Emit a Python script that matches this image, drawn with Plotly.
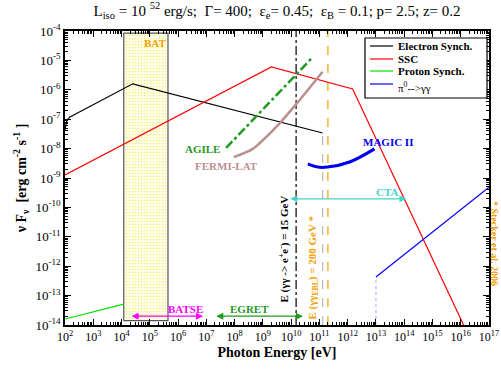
import numpy as np
import plotly.graph_objects as go

# ---------------- data ----------------
elec_E = [1e2, 1.15e2, 1.5e2, 2.5e4, 1.3e11]
elec_F = [4.3e-8, 9.0e-8, 1.2e-7, 1.6e-6, 3.4e-8]

ssc_E = [1e2, 2.0e9, 1.5e12, 1.26e16]
ssc_F = [1.26e-9, 6.0e-6, 1.07e-6, 1.0e-14]

prot_E = [1e2, 1.2e4]
prot_F = [1.6e-14, 5.1e-14]

pion_E = [1e13, 1e17]
pion_F = [4.3e-13, 4.9e-10]

agile_E = [5.0e7, 5.4e10]
agile_F = [1.05e-8, 1.2e-5]

fermi_E = [9.3e7, 4.4e8, 7.8e8, 4.0e9, 2.0e10, 1.3e11]
fermi_F = [5.1e-9, 9.8e-9, 1.55e-8, 7.4e-8, 4.5e-7, 4.1e-6]

magic_E = [3.9e10, 8.7e10, 1.95e11, 1.17e12, 8.9e12]
magic_F = [3.0e-9, 2.35e-9, 2.35e-9, 3.5e-9, 9.8e-9]

bat_E = [1.2e4, 4.4e5]
bat_F = [1.4e-14, 8.5e-5]

batse_E = [2.0e4, 7.6e6]
egret_E = [2.0e7, 2.6e10]
instr_F = 2.0e-14
cta_E = [8.3e9, 1.2e14]
cta_F = 1.95e-10

E_pair = 1.5e10      # gamma gamma -> e+ e-
E_ebl = 2.0e11       # EBL cut
E_end = 1.3e11       # end of electron synch
E_pion = 1e13

x_ticks = list(range(2, 18))
y_ticks = list(range(-14, -3))

FONT = "Liberation Serif"
GREEN_D = "#1f9a1f"
ORANGE = "#f5a000"

fig = go.Figure()

# BAT box
fig.add_trace(go.Scatter(
    x=[bat_E[0], bat_E[1], bat_E[1], bat_E[0], bat_E[0]],
    y=[bat_F[0], bat_F[0], bat_F[1], bat_F[1], bat_F[0]],
    mode="lines", fill="toself", fillcolor="#ffffe6",
    fillpattern=dict(shape=".", fgcolor="#f3ee8a", bgcolor="#ffffec", size=3, solidity=0.25),
    line=dict(color="#555555", width=1.2), hoverinfo="skip", showlegend=False))

# vertical reference lines
fig.add_trace(go.Scatter(x=[E_pair, E_pair], y=[1e-14, 1e-4], mode="lines",
                         line=dict(color="black", width=1.2, dash="dashdot"), showlegend=False))
fig.add_trace(go.Scatter(x=[E_end, E_end], y=[1e-14, elec_F[-1]], mode="lines",
                         line=dict(color="#bbbbbb", width=1.2, dash="dash"), showlegend=False))
fig.add_trace(go.Scatter(x=[E_ebl, E_ebl], y=[1e-14, 1e-4], mode="lines",
                         line=dict(color=ORANGE, width=1.2, dash="dash"), showlegend=False))
fig.add_trace(go.Scatter(x=[E_pion, E_pion], y=[1e-14, pion_F[0]], mode="lines",
                         line=dict(color="#b0b8f0", width=1.2, dash="dot"), showlegend=False))

# model curves
fig.add_trace(go.Scatter(x=elec_E, y=elec_F, mode="lines", name="Electron Synch.",
                         line=dict(color="black", width=1.2)))
fig.add_trace(go.Scatter(x=ssc_E, y=ssc_F, mode="lines", name="SSC",
                         line=dict(color="red", width=1.2)))
fig.add_trace(go.Scatter(x=prot_E, y=prot_F, mode="lines", name="Proton Synch.",
                         line=dict(color="#00e000", width=1.2)))
fig.add_trace(go.Scatter(x=pion_E, y=pion_F, mode="lines", name="π<sup>0</sup>-->γγ",
                         line=dict(color="blue", width=1.2)))

# sensitivities
fig.add_trace(go.Scatter(x=agile_E, y=agile_F, mode="lines", showlegend=False,
                         line=dict(color=GREEN_D, width=2.5, dash="dashdot")))
fig.add_trace(go.Scatter(x=fermi_E, y=fermi_F, mode="lines", showlegend=False,
                         line=dict(color="#bc8f8f", width=2.5, shape="spline")))
fig.add_trace(go.Scatter(x=magic_E, y=magic_F, mode="lines", showlegend=False,
                         line=dict(color="#0000ee", width=3, shape="spline")))

lg = np.log10
ann = []
def arrow(e0, e1, f, color):
    ann.append(dict(x=lg(e1), y=lg(f), ax=lg(e0), ay=lg(f), xref="x", yref="y",
                    axref="x", ayref="y", text="", showarrow=True, arrowhead=2,
                    arrowside="end+start", arrowsize=1, arrowwidth=1.4, arrowcolor=color))
arrow(batse_E[0], batse_E[1], instr_F, "#ff00ff")
arrow(egret_E[0], egret_E[1], instr_F, GREEN_D)
arrow(cta_E[0], cta_E[1], cta_F, "#48d1cc")

def label(x, y, text, color, size=11, angle=0, bold=True):
    t = f"<b>{text}</b>" if bold else text
    ann.append(dict(x=x, y=y, xref="x", yref="y", text=t, showarrow=False,
                    xanchor="center", yanchor="middle",
                    textangle=angle, font=dict(family=FONT, size=size, color=color)))

label(5.18, -4.41, "BAT", ORANGE)
label(6.88, -8.01, "AGILE", GREEN_D)
label(7.72, -8.59, "FERMI-LAT", "#bc8f8f")
label(13.41, -7.78, "MAGIC II", "#0000ee")
label(13.38, -9.48, "CTA", "#48d1cc")
label(6.28, -13.46, "BATSE", "#ff00ff")
label(8.54, -13.46, "EGRET", GREEN_D)
label(9.77, -11.41, "E (γγ -> e<sup>+</sup>e<sup>-</sup>) = 15 GeV", "black", size=11, angle=-90)
label(10.76, -12.06, "E (γγ<sub>EBL</sub>) = 200 GeV *", ORANGE, size=11, angle=-90)

ann.append(dict(x=(495 - 65) / 424, y=1 - (243 - 31) / 294, xref="paper", yref="paper",
                xanchor="center", yanchor="middle",
                showarrow=False, text="<b>* Stecker et al. 2006</b>", textangle=90,
                font=dict(family=FONT, size=10, color=ORANGE)))

# manual legend (compact, as in reference)
def px_x(p): return (p - 65) / 424
def px_y(p): return 1 - (p - 31) / 294
shapes = [dict(type="rect", xref="paper", yref="paper", x0=px_x(365), x1=px_x(487),
               y0=px_y(98), y1=px_y(38), line=dict(color="black", width=1.2),
               fillcolor="white", layer="above")]
leg = [("Electron Synch.", "black", 46, 46, True),
       ("SSC", "red", 59, 59, True),
       ("Proton Synch.", "#00e000", 71, 71, True),
       ("π<sup>0</sup>-->γγ", "blue", 84, 87, False)]
for txt, col, ly, ty, bold in leg:
    shapes.append(dict(type="line", xref="paper", yref="paper", x0=px_x(370), x1=px_x(393),
                       y0=px_y(ly), y1=px_y(ly), line=dict(color=col, width=1.2), layer="above"))
    ann.append(dict(x=px_x(396), y=px_y(ty), xref="paper", yref="paper",
                    xanchor="left", yanchor="middle",
                    showarrow=False, text=(f"<b>{txt}</b>" if bold else txt),
                    font=dict(family=FONT, size=11, color="black")))

minor_x = [m * 10.0 ** k for k in range(2, 17) for m in range(2, 10)]
minor_y = [m * 10.0 ** k for k in range(-14, -4) for m in range(2, 10)]

axis_common = dict(type="log", showgrid=False, zeroline=False, showline=True,
                   automargin=False,
                   linecolor="black", linewidth=1.5, mirror="allticks", ticks="inside",
                   ticklen=6, tickwidth=1.2, tickcolor="black")

fig.update_layout(
    template="none",
    width=501, height=370, showlegend=False,
    margin=dict(l=65, r=12, t=31, b=45, autoexpand=False),
    paper_bgcolor="white", plot_bgcolor="white",
    font=dict(family=FONT, color="black"),
    title=dict(text="L<sub>iso</sub> = 10 <sup>52</sup> erg/s;  Γ= 400;  ε<sub>e</sub>= 0.45;  "
                    "ε<sub>B</sub> = 0.1; p= 2.5; z= 0.2",
               x=0.553, xanchor="center", y=0.972, yanchor="middle",
               font=dict(family=FONT, size=15, color="black")),
    xaxis=dict(axis_common, range=[2, 17],
               tickvals=[10.0 ** k for k in x_ticks],
               ticktext=[f"10<sup>{k}</sup>" for k in x_ticks],
               tickfont=dict(family=FONT, size=12, color="black"),
               minor=dict(ticks="inside", ticklen=3, tickcolor="black", tickvals=minor_x),
               title=dict(text="<b>Photon Energy [eV]</b>", standoff=4,
                          font=dict(family=FONT, size=14))),
    yaxis=dict(axis_common, range=[-14, -4],
               tickvals=[10.0 ** k for k in y_ticks],
               ticktext=[f"10<sup>{k}</sup>" for k in y_ticks],
               tickfont=dict(family=FONT, size=13, color="black"),
               minor=dict(ticks="inside", ticklen=3, tickcolor="black", tickvals=minor_y),
               title=dict(text="<b>ν F<sub>ν</sub>  [erg cm<sup>-2</sup> s<sup>-1</sup> ]</b>",
                          standoff=6, font=dict(family=FONT, size=14))),
    annotations=ann, shapes=shapes,
)

fig.write_html("out.html", config={"displayModeBar": False},
               post_script="document.body.style.margin='0';")
